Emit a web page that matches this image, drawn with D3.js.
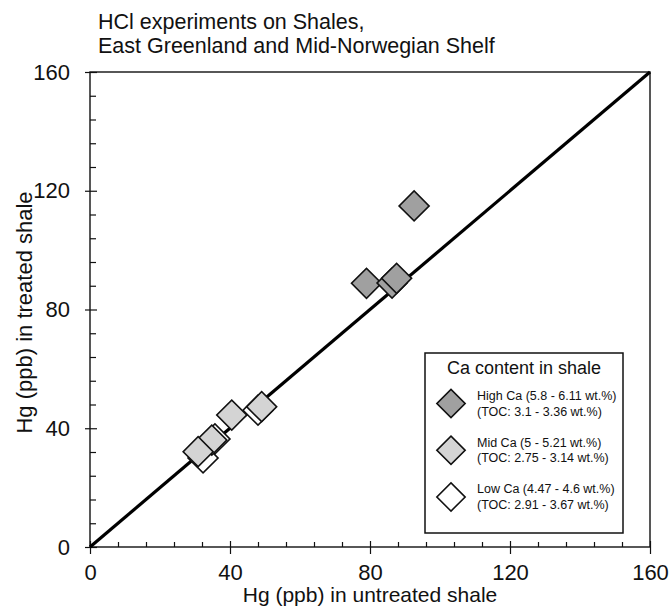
<!DOCTYPE html>
<html>
<head>
<meta charset="utf-8">
<script src="https://cdn.jsdelivr.net/npm/d3@7"></script>
<style>
  body { margin: 0; background: #fff; }
  text { font-family: "Liberation Sans", Arial, sans-serif; fill: #111; }
</style>
</head>
<body>
<div id="chart"></div>
<script>
//////////////////////////////////////////////////////////////////////////////
// Data

var titleLines = ["HCl experiments on Shales,", "East Greenland and Mid-Norwegian Shelf"];
var xLabel = "Hg (ppb) in untreated shale";
var yLabel = "Hg (ppb) in treated shale";

var majorTicks = [0, 40, 80, 120, 160];
var minorTicks = [8, 16, 24, 32, 48, 56, 64, 72, 88, 96, 104, 112, 128, 136, 144, 152];

// Low Ca (white)
var lowX = [48.0, 35.7, 32.3];
var lowY = [46.1, 36.4, 30.0];
// Mid Ca (light grey)
var midX = [49.05, 40.5, 34.8, 30.9];
var midY = [47.25, 44.45, 36.0, 32.1];
// High Ca (grey)
var highX = [79.0, 86.3, 87.6, 92.6];
var highY = [88.8, 88.9, 90.5, 114.9];

var groupNames = ["High Ca (5.8 - 6.11 wt.%)", "Mid Ca (5 - 5.21 wt.%)", "Low Ca (4.47 - 4.6 wt.%)"];
var groupToc = ["(TOC: 3.1 - 3.36 wt.%)", "(TOC: 2.75 - 3.14 wt.%)", "(TOC: 2.91 - 3.67 wt.%)"];
var groupFill = ["#a0a0a0", "#d4d4d4", "#ffffff"];
var legendTitle = "Ca content in shale";

//////////////////////////////////////////////////////////////////////////////
// Scales and svg

var width = 670, height = 607;
var xScale = d3.scaleLinear().domain([0, 160]).range([90, 650]);
var yScale = d3.scaleLinear().domain([0, 160]).range([547, 72]);

var svg = d3.select("#chart")
    .append("svg")
    .attr("width", width)
    .attr("height", height);

svg.append("rect")
    .attr("width", width)
    .attr("height", height)
    .attr("fill", "#fff");

// title
svg.append("g").selectAll("text")
    .data(titleLines).enter().append("text")
    .attr("x", 98)
    .attr("y", (d, i) => 29 + i * 24)
    .style("font-size", "21.5px")
    .text(d => d);

//////////////////////////////////////////////////////////////////////////////
// Axes

var xAxis = d3.axisBottom(xScale).tickValues(majorTicks).tickSize(7).tickPadding(10);
var xMinor = d3.axisBottom(xScale).tickValues(minorTicks).tickSize(-5).tickFormat("");
var yAxis = d3.axisLeft(yScale).tickValues(majorTicks).tickSize(5).tickPadding(15);
var yMinor = d3.axisLeft(yScale).tickValues(minorTicks).tickSize(-6).tickFormat("");

var gx = svg.append("g").attr("transform", "translate(0," + yScale(0) + ")").call(xAxis);
gx.selectAll(".tick line").attr("y1", -6);
svg.append("g").attr("transform", "translate(0," + yScale(0) + ")").call(xMinor);

var gy = svg.append("g").attr("transform", "translate(" + xScale(0) + ",0)").call(yAxis);
gy.selectAll(".tick line").attr("x1", 7);
svg.append("g").attr("transform", "translate(" + xScale(0) + ",0)").call(yMinor);

svg.selectAll(".domain").remove();
svg.selectAll(".tick text").style("font-size", "22px").attr("fill", "#111")
    .style("font-family", "'Liberation Sans', Arial, sans-serif");
svg.selectAll(".tick line").attr("stroke", "#111").attr("stroke-width", 1.2);

// frame
svg.append("rect")
    .attr("x", xScale(0))
    .attr("y", yScale(160))
    .attr("width", xScale(160) - xScale(0))
    .attr("height", yScale(0) - yScale(160))
    .attr("fill", "none")
    .attr("stroke", "#111")
    .attr("stroke-width", 1.4);

// axis labels
svg.append("text")
    .attr("x", (xScale(0) + xScale(160)) / 2)
    .attr("y", 601.5)
    .attr("text-anchor", "middle")
    .style("font-size", "21px")
    .text(xLabel);

svg.append("text")
    .attr("transform", "translate(32," + ((yScale(0) + yScale(160)) / 2 + 3) + ") rotate(-90)")
    .attr("text-anchor", "middle")
    .style("font-size", "22px")
    .text(yLabel);

//////////////////////////////////////////////////////////////////////////////
// 1:1 line and points

svg.append("line")
    .attr("x1", xScale(0)).attr("y1", yScale(0))
    .attr("x2", xScale(160)).attr("y2", yScale(160))
    .attr("stroke", "#000")
    .attr("stroke-width", 3.2);

var diamond = d3.symbol().type(d3.symbolSquare).size(450);

function drawPoints(xs, ys, fill) {
    svg.append("g").selectAll("path")
        .data(xs).enter().append("path")
        .attr("d", diamond)
        .attr("transform", (d, i) => "translate(" + xScale(d) + "," + yScale(ys[i]) + ") rotate(45)")
        .attr("fill", fill)
        .attr("stroke", "#111")
        .attr("stroke-width", 1.6);
}

drawPoints(lowX, lowY, groupFill[2]);
drawPoints(midX, midY, groupFill[1]);
drawPoints(highX, highY, groupFill[0]);

//////////////////////////////////////////////////////////////////////////////
// Legend

var legend = svg.append("g");

legend.append("rect")
    .attr("x", 425).attr("y", 353)
    .attr("width", 198).attr("height", 180)
    .attr("fill", "#fff")
    .attr("stroke", "#111")
    .attr("stroke-width", 1.5);

legend.append("text")
    .attr("x", 524).attr("y", 374)
    .attr("text-anchor", "middle")
    .style("font-size", "18px")
    .text(legendTitle);

var items = legend.selectAll("g.item")
    .data(groupNames).enter().append("g")
    .attr("class", "item")
    .attr("transform", (d, i) => "translate(0," + (403.5 + i * 46.7) + ")");

items.append("path")
    .attr("d", d3.symbol().type(d3.symbolSquare).size(400))
    .attr("transform", "translate(451,0) rotate(45)")
    .attr("fill", (d, i) => groupFill[i])
    .attr("stroke", "#111")
    .attr("stroke-width", 1.6);

items.append("text")
    .attr("x", 477).attr("y", -3.5)
    .style("font-size", "12.5px")
    .text(d => d);

items.append("text")
    .attr("x", 477).attr("y", 12)
    .style("font-size", "12.5px")
    .text((d, i) => groupToc[i]);
</script>
</body>
</html>
